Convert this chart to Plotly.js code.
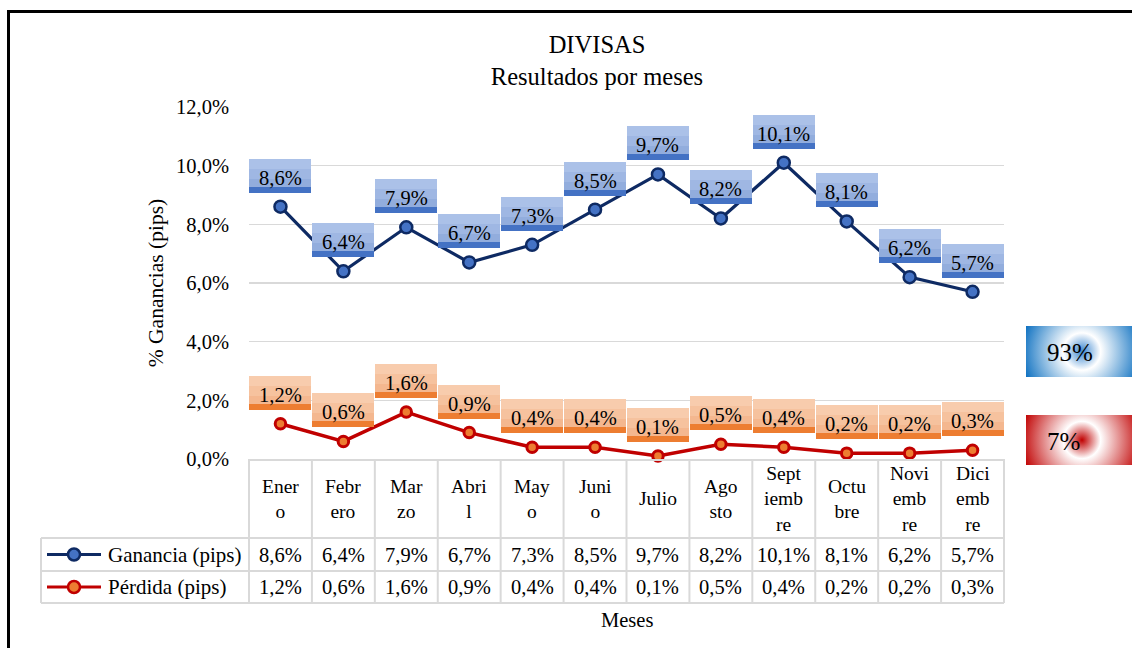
<!DOCTYPE html>
<html><head><meta charset="utf-8">
<script src="https://cdn.plot.ly/plotly-3.0.1.min.js"></script>
<style>
html,body{margin:0;padding:0;background:#fff;overflow:hidden;}
#frame{position:absolute;left:7px;top:10px;width:1200px;height:700px;border:3px solid #000;box-sizing:border-box;}
#chart{position:absolute;left:0;top:0;width:1132px;height:648px;}
</style></head><body>
<div id="frame"></div>
<div id="chart"></div>
<script>
// ---- data ----
const months = ['Enero','Febrero','Marzo','Abril','Mayo','Junio','Julio','Agosto','Septiembre','Octubre','Noviembre','Diciembre'];
const headerLabels = ['Ener<br>o','Febr<br>ero','Mar<br>zo','Abri<br>l','May<br>o','Juni<br>o','Julio','Ago<br>sto','Sept<br>iemb<br>re','Octu<br>bre','Novi<br>emb<br>re','Dici<br>emb<br>re'];
const ganancia = [8.6,6.4,7.9,6.7,7.3,8.5,9.7,8.2,10.1,8.1,6.2,5.7];
const perdida  = [1.2,0.6,1.6,0.9,0.4,0.4,0.1,0.5,0.4,0.2,0.2,0.3];
const seriesNames = ['Ganancia (pips)','Pérdida (pips)'];
const yTicks = [0,2,4,6,8,10,12];

// ---- style ----
const FONT = '"Liberation Serif","Times New Roman",serif';
const W = 1132, H = 648;
const M = {l:249, r:128, t:107, b:189};
const plotW = W - M.l - M.r, plotH = H - M.t - M.b;
const px2x = p => (p - M.l) / plotW;          // page px -> paper x
const py2y = p => (H - M.b - p) / plotH;      // page px -> paper y
const GRID = '#d9d9d9';
const NAVY = '#0e2a63', BLUE = '#4472c4';
const DRED = '#c00000', ORANGE = '#ed7d31';
const FS = 20.5;

const fmt = v => v.toFixed(1).replace('.', ',') + '%';

const traces = [
  {type:'scatter', mode:'lines+markers', name:seriesNames[0], x:months, y:ganancia,
   line:{color:NAVY, width:3.2}, marker:{size:12, color:BLUE, line:{color:NAVY, width:2.5}}, cliponaxis:false},
  {type:'scatter', mode:'lines+markers', name:seriesNames[1], x:months, y:perdida,
   line:{color:DRED, width:3.5}, marker:{size:10.5, color:ORANGE, line:{color:DRED, width:3}}, cliponaxis:false}
];

const annotations = [];
const shapes = [];
const T = {showarrow:false, xanchor:'center', yanchor:'middle'};

// data labels: gradient-like boxes above points
function addLabels(vals, cols){
  vals.forEach((v,i)=>{
    const base = Object.assign({}, T, {x:months[i], y:v, xref:'x', yref:'y', text:' ', font:{size:1},
                  borderpad:0, borderwidth:0, width:62});
    annotations.push(Object.assign({}, base, {bgcolor:cols[0], height:10, yshift:43}));
    annotations.push(Object.assign({}, base, {bgcolor:cols[1], height:10, yshift:33}));
    annotations.push(Object.assign({}, base, {bgcolor:cols[2], height:8,  yshift:24}));
    annotations.push(Object.assign({}, base, {bgcolor:cols[3], height:6,  yshift:17}));
    annotations.push(Object.assign({}, T, {x:months[i], y:v, xref:'x', yref:'y', text:fmt(v),
                      font:{size:FS, color:'#000'}, yshift:29}));
  });
}
addLabels(ganancia, ['#abc1e8','#9fb7e3','#92addd', BLUE]);
addLabels(perdida,  ['#f8ccad','#f6c29e','#f4b78f', ORANGE]);

// ---- data table ----
const rowEdges = [459, 538, 571, 603];
for (let k = 0; k <= months.length; k++){
  const xx = k / months.length;
  shapes.push({type:'line', xref:'paper', yref:'paper', x0:xx, x1:xx, y0:py2y(rowEdges[0]), y1:py2y(rowEdges[3]),
               line:{color:GRID, width:2}});
}
[538, 571, 603].forEach(p=>{
  shapes.push({type:'line', xref:'paper', yref:'paper', x0:px2x(41), x1:1, y0:py2y(p), y1:py2y(p), line:{color:GRID, width:2}});
});
shapes.push({type:'line', xref:'paper', yref:'paper', x0:px2x(41), x1:px2x(41), y0:py2y(538), y1:py2y(603), line:{color:GRID, width:2}});

// header (month names)
months.forEach((m,i)=>{
  annotations.push(Object.assign({}, T, {x:m, xref:'x', y:py2y((rowEdges[0]+rowEdges[1])/2), yref:'paper',
                    text:headerLabels[i], font:{size:19.5}, align:'center', valign:'middle'}));
});
// value rows
const rowsVals = [ganancia, perdida];
rowsVals.forEach((vals, r)=>{
  const yc = py2y((rowEdges[r+1] + rowEdges[r+2]) / 2);
  vals.forEach((v,i)=>{
    annotations.push(Object.assign({}, T, {x:months[i], xref:'x', y:yc, yref:'paper', text:fmt(v), font:{size:FS}}));
  });
  // legend key
  const lc = r === 0 ? NAVY : DRED, mc = r === 0 ? BLUE : ORANGE;
  shapes.push({type:'line', xref:'paper', yref:'paper', x0:px2x(47), x1:px2x(101), y0:yc, y1:yc, line:{color:lc, width:3}});
  shapes.push({type:'circle', xref:'paper', yref:'paper', xsizemode:'pixel', ysizemode:'pixel',
               xanchor:px2x(74), yanchor:yc, x0:-6, x1:6, y0:-6, y1:6, fillcolor:mc, line:{color:lc, width:2.5}});
  annotations.push(Object.assign({}, T, {x:px2x(106), xref:'paper', xanchor:'left', y:yc, yref:'paper',
                    text:seriesNames[r], font:{size:21}}));
});
// x-axis title
annotations.push(Object.assign({}, T, {x:0.5, xref:'paper', y:py2y(620), yref:'paper', text:'Meses', font:{size:FS}}));

// ---- totals boxes on the right ----
const sum = a => a.reduce((s,v)=>s+v, 0);
const totals = [Math.round(sum(ganancia)), Math.round(sum(perdida))];
function radial(w, h, cx, cy, r, center, edge){
  const svg = `<svg xmlns="http://www.w3.org/2000/svg" width="${w}" height="${h}" viewBox="0 0 ${w} ${h}" preserveAspectRatio="none">`+
    `<defs><radialGradient id="g" gradientUnits="userSpaceOnUse" cx="${cx}" cy="${cy}" r="${r}">`+
    `<stop offset="0" stop-color="${center}"/><stop offset="0.3" stop-color="#ffffff"/><stop offset="1" stop-color="${edge}"/>`+
    `</radialGradient></defs><rect x="0" y="0" width="${w}" height="${h}" fill="url(#g)"/></svg>`;
  return 'data:image/svg+xml;charset=utf-8,' + encodeURIComponent(svg);
}
const boxes = [
  {top:326, bottom:377, center:'#3a86d0', edge:'#0b6fc0'},
  {top:415, bottom:465, center:'#c00000', edge:'#c00000'}
];
const images = boxes.map(b=>({
  source: radial(106, b.bottom-b.top, 56, (b.bottom-b.top)/2, 62, b.center, b.edge),
  xref:'paper', yref:'paper', x:px2x(1026), y:py2y(b.top), sizex:106/plotW, sizey:(b.bottom-b.top)/plotH,
  xanchor:'left', yanchor:'top', sizing:'stretch', layer:'above'
}));
boxes.forEach((b,i)=>{
  annotations.push(Object.assign({}, T, {x:px2x(1045), xref:'paper', xanchor:'left', y:py2y((b.top+b.bottom)/2+1), yref:'paper',
                    text:totals[i] + '%', font:{size:25, color:'#000'}}));
});

const layout = {
  width:W, height:H,
  margin:{l:M.l, r:M.r, t:M.t, b:M.b, pad:0},
  paper_bgcolor:'rgba(0,0,0,0)', plot_bgcolor:'rgba(0,0,0,0)',
  separators:',.',
  font:{family:FONT, size:20, color:'#000'},
  showlegend:false,
  title:{text:'DIVISAS<br>Resultados por meses', font:{family:FONT, size:24.5, color:'#000'},
         xref:'container', x:597/W, xanchor:'center', yref:'container', y:1-53/H, yanchor:'top'},
  xaxis:{type:'category', categoryorder:'array', categoryarray:months, range:[-0.5, months.length-0.5],
         showticklabels:false, ticks:'', showgrid:false, zeroline:false,
         showline:true, linecolor:GRID, linewidth:2, fixedrange:true},
  yaxis:{range:[0,12], tickmode:'array', tickvals:yTicks, ticktext:yTicks.map(fmt), ticks:'', ticklabelstandoff:19,
         showgrid:true, gridcolor:GRID, gridwidth:1.5, zeroline:false, showline:false, fixedrange:true,
         tickfont:{size:FS},
         title:{text:'% Ganancias (pips)', font:{size:21.5}, standoff:6}},
  shapes:shapes, annotations:annotations, images:images
};

Plotly.newPlot('chart', traces, layout, {displayModeBar:false, staticPlot:true});
</script>
</body></html>
